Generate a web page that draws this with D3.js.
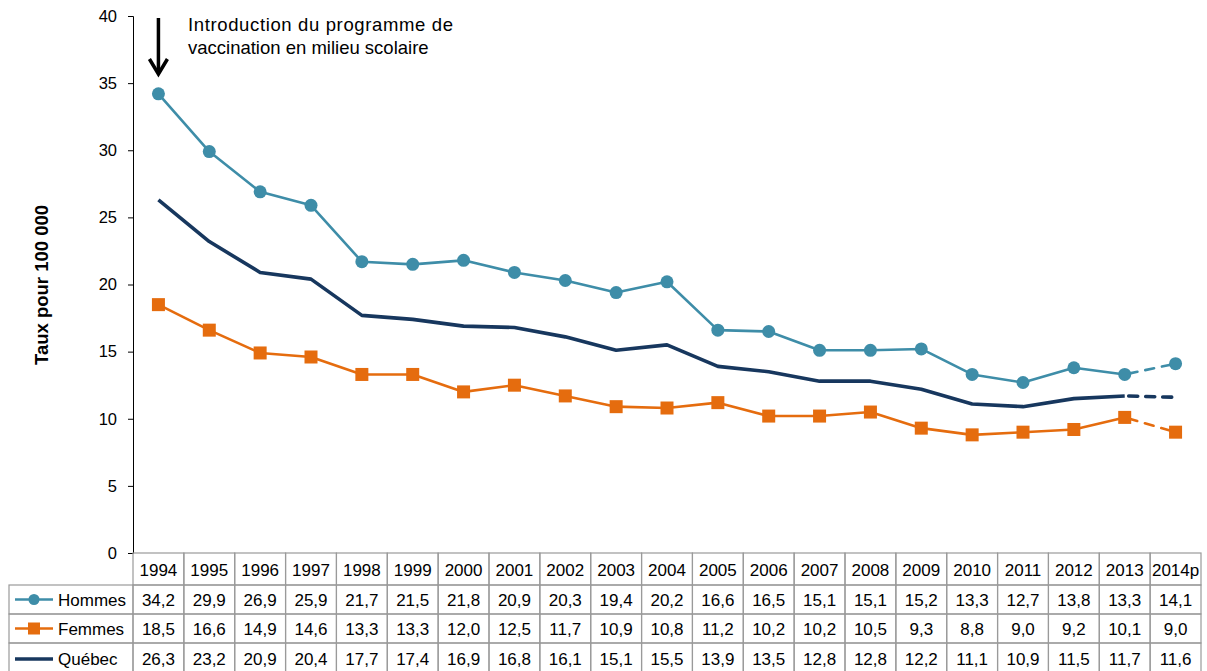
<!DOCTYPE html>
<html>
<head>
<meta charset="utf-8">
<script src="https://cdn.jsdelivr.net/npm/d3@7"></script>
<style>
  body { margin: 0; background: #fff; }
  text { font-family: "Liberation Sans", Arial, sans-serif; }
</style>
</head>
<body>
<script>
const years = ["1994","1995","1996","1997","1998","1999","2000","2001","2002","2003","2004","2005","2006","2007","2008","2009","2010","2011","2012","2013","2014p"];
const hommes = [34.2,29.9,26.9,25.9,21.7,21.5,21.8,20.9,20.3,19.4,20.2,16.6,16.5,15.1,15.1,15.2,13.3,12.7,13.8,13.3,14.1];
const femmes = [18.5,16.6,14.9,14.6,13.3,13.3,12.0,12.5,11.7,10.9,10.8,11.2,10.2,10.2,10.5,9.3,8.8,9.0,9.2,10.1,9.0];
const quebec = [26.3,23.2,20.9,20.4,17.7,17.4,16.9,16.8,16.1,15.1,15.5,13.9,13.5,12.8,12.8,12.2,11.1,10.9,11.5,11.7,11.6];
const yTicks = [0,5,10,15,20,25,30,35,40];

var w = 1207, h = 671;
var mLeft = 133, mRight = 1201, mTop = 16, mBottom = 553;

var svg = d3.select("body").append("svg")
    .attr("width", w)
    .attr("height", h);

var x = d3.scaleBand().domain(years).range([mLeft, mRight]);
var y = d3.scaleLinear().domain([0, 40]).range([mBottom, mTop]);

// y axis
var yAxis = svg.append("g")
    .attr("transform", "translate(" + mLeft + ",0)")
    .call(d3.axisLeft(y).tickValues(yTicks).tickSize(5).tickPadding(11));
yAxis.select(".domain").attr("stroke", "#000").attr("stroke-width", 1);
yAxis.selectAll(".tick line").attr("stroke", "#000");
yAxis.selectAll("text").style("font-size", "16.5px").attr("fill", "#000");

svg.append("text")
    .attr("transform", "translate(48," + 285 + ") rotate(-90)")
    .attr("text-anchor", "middle")
    .style("font-size", "18.5px")
    .style("font-weight", "bold")
    .text("Taux pour 100 000");

var series = [
  { name: "Hommes", values: hommes, color: "#3E8DA8", width: 2.6, marker: "circle" },
  { name: "Femmes", values: femmes, color: "#E56C0E", width: 2.6, marker: "square" },
  { name: "Québec", values: quebec, color: "#17375E", width: 3.6, marker: null }
];

var cx = function (i) { return x(years[i]) + x.bandwidth() / 2; };
var line = d3.line().x(function (d) { return cx(d.i); }).y(function (d) { return y(d.v); });

series.forEach(function (s) {
  var pts = s.values.map(function (v, i) { return { v: v, i: i }; });
  var n = pts.length;
  svg.append("path")
      .attr("d", line(pts.slice(0, n - 1)))
      .attr("fill", "none")
      .attr("stroke", s.color)
      .attr("stroke-width", s.width)
      .attr("stroke-linejoin", "round");
  svg.append("path")
      .attr("d", line(pts.slice(n - 2)))
      .attr("fill", "none")
      .attr("stroke", s.color)
      .attr("stroke-width", s.width)
      .attr("stroke-dasharray", "9,8")
      .attr("stroke-dashoffset", -4)
      .attr("stroke-linecap", "round");
  if (s.marker === "circle") {
    svg.selectAll(null).data(pts).enter().append("circle")
        .attr("cx", function (d) { return cx(d.i); })
        .attr("cy", function (d) { return y(d.v); })
        .attr("r", 6.5)
        .attr("fill", s.color);
  } else if (s.marker === "square") {
    svg.selectAll(null).data(pts).enter().append("rect")
        .attr("x", function (d) { return cx(d.i) - 6.5; })
        .attr("y", function (d) { return y(d.v) - 6.5; })
        .attr("width", 13)
        .attr("height", 13)
        .attr("fill", s.color);
  }
});

// annotation arrow
var ax = cx(0);
svg.append("line")
    .attr("x1", ax).attr("x2", ax)
    .attr("y1", 18).attr("y2", 72)
    .attr("stroke", "#000").attr("stroke-width", 3.5);
svg.append("path")
    .attr("d", "M" + (ax - 9) + ",59 L" + ax + ",74 L" + (ax + 9) + ",59")
    .attr("fill", "none").attr("stroke", "#000").attr("stroke-width", 3.5);
var note = svg.append("text").style("font-size", "18.5px").attr("fill", "#000");
note.append("tspan").attr("x", 188).attr("y", 31).attr("textLength", 265).text("Introduction du programme de");
note.append("tspan").attr("x", 188).attr("y", 54).text("vaccination en milieu scolaire");

// data table
var rowTop = [553, 585, 614, 643];
var rowH = [32, 29, 29, 32];
var gridColor = "#9a9a9a";
var tbl = svg.append("g");

// header row
tbl.selectAll(null).data(years).enter().append("rect")
    .attr("x", function (d) { return x(d); })
    .attr("y", rowTop[0])
    .attr("width", x.bandwidth())
    .attr("height", rowH[0])
    .attr("fill", "none")
    .attr("stroke", gridColor).attr("stroke-width", 1.2);
tbl.selectAll(null).data(years).enter().append("text")
    .attr("x", function (d) { return x(d) + x.bandwidth() / 2; })
    .attr("y", rowTop[0] + 23)
    .attr("text-anchor", "middle")
    .style("font-size", "17px")
    .text(function (d) { return d; });

series.forEach(function (s, r) {
  var ty = rowTop[r + 1];
  tbl.append("rect")
      .attr("x", 9).attr("y", ty)
      .attr("width", mLeft - 9).attr("height", rowH[r + 1])
      .attr("fill", "none").attr("stroke", gridColor).attr("stroke-width", 1.2);
  var my = ty + rowH[r + 1] / 2;
  tbl.append("line")
      .attr("x1", 15).attr("x2", 53).attr("y1", my).attr("y2", my)
      .attr("stroke", s.color).attr("stroke-width", s.width);
  if (s.marker === "circle") {
    tbl.append("circle").attr("cx", 34).attr("cy", my).attr("r", 5.5).attr("fill", s.color);
  } else if (s.marker === "square") {
    tbl.append("rect").attr("x", 28).attr("y", my - 6).attr("width", 12).attr("height", 12).attr("fill", s.color);
  }
  tbl.append("text")
      .attr("x", 58).attr("y", my + 6)
      .style("font-size", "17px")
      .text(s.name);
  tbl.selectAll(null).data(s.values).enter().append("rect")
      .attr("x", function (d, i) { return x(years[i]); })
      .attr("y", ty)
      .attr("width", x.bandwidth())
      .attr("height", rowH[r + 1])
      .attr("fill", "none")
      .attr("stroke", gridColor).attr("stroke-width", 1.2);
  tbl.selectAll(null).data(s.values).enter().append("text")
      .attr("x", function (d, i) { return cx(i); })
      .attr("y", my + 6)
      .attr("text-anchor", "middle")
      .style("font-size", "17px")
      .text(function (d) { return d.toFixed(1).replace(".", ","); });
});
</script>
</body>
</html>
